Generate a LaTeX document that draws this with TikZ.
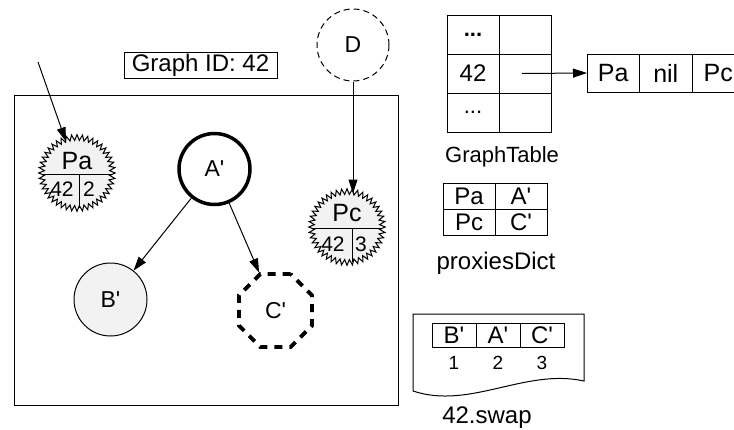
\documentclass[tikz,border=0pt]{standalone}
\usepackage{fontspec}
\setmainfont{Liberation Sans}
\usetikzlibrary{arrows.meta,shapes.geometric,calc}
\newcommand{\q}{\textquotesingle}
\begin{document}
\begin{tikzpicture}[x=1pt,y=-1pt,
  line width=1pt,
  arr/.style={-{Triangle[length=14pt,width=9pt]}, line width=1pt},
  big/.style={font=\fontsize{24}{28}\selectfont, inner sep=0},
  mid/.style={font=\fontsize{25}{29}\selectfont, inner sep=0},
  small/.style={font=\fontsize{21}{24}\selectfont, inner sep=0},
  tiny/.style={font=\fontsize{19}{22}\selectfont, inner sep=0},
  gcell/.style={draw, line width=1pt, inner sep=0, outer sep=0, minimum width=52pt, minimum height=39pt, font=\fontsize{24}{28}\selectfont},
  lcell/.style={draw, line width=1pt, inner sep=0, outer sep=0, minimum width=52.5pt, minimum height=38pt, font=\fontsize{25}{29}\selectfont},
  pcell/.style={draw, line width=1pt, inner sep=0, outer sep=0, minimum width=52pt, minimum height=26pt, font=\fontsize{24}{28}\selectfont},
  scell/.style={draw, line width=1pt, inner sep=0, outer sep=0, minimum width=44pt, minimum height=24pt, font=\fontsize{24}{27}\selectfont},
  burst/.style={draw, line width=1pt, fill=black!5},
  vnode/.style={circle, inner sep=0, font=\fontsize{23}{27}\selectfont}
]
\clip (0,0) rectangle (734,429);

% main frame and caption
\node[draw, line width=1pt, minimum width=384pt, minimum height=310pt, inner sep=0] (frame) at (206,250) {};
\node[draw, line width=1pt, minimum width=153pt, minimum height=26pt, inner sep=0, big] (gid) at (200.5,65) {Graph ID: 42};

% D
\node[vnode, draw, dashed, dash pattern=on 6pt off 4pt, minimum size=72pt] (d) at (353,45) {D};

% vertices
\node[vnode, draw, line width=3.5pt, minimum size=71pt] (a) at (214.5,169) {A\q};
\node[vnode, draw, fill=black!5, minimum size=73pt] (b) at (110.5,299.5) {B\q};
\node[regular polygon, regular polygon sides=8, draw, line width=3.8pt, dash pattern=on 8pt off 7pt, minimum size=79pt, inner sep=0, font=\fontsize{23}{27}\selectfont] (c) at (275.5,310.5) {C\q};

% proxies (starbursts)
\node[circle, minimum size=66pt, inner sep=0] (pa) at (77,173) {};
\draw[burst, shift={(pa.center)}] plot[domain=0:360, samples=89] (\x:{35.5+2.8*cos(44*\x)}) -- cycle;
\draw ($(pa.center)+(-35,1)$) -- ($(pa.center)+(35,1)$);
\draw ($(pa.center)+(2,1)$) -- ($(pa.center)+(2,35)$);
\node[mid] (patxt) at ($(pa.center)+(0,-12)$) {Pa};
\node[small] (pan1) at ($(pa.center)+(-15,16)$) {42};
\node[small] (pan2) at ($(pa.center)+(12,16)$) {2};

\node[circle, minimum size=66pt, inner sep=0] (pc) at (347,227) {};
\draw[burst, shift={(pc.center)}] plot[domain=0:360, samples=89] (\x:{35.5+2.8*cos(44*\x)}) -- cycle;
\draw ($(pc.center)+(-35,1)$) -- ($(pc.center)+(35,1)$);
\draw ($(pc.center)+(5,1)$) -- ($(pc.center)+(5,35)$);
\node[mid] (pctxt) at ($(pc.center)+(0,-14)$) {Pc};
\node[small] (pcn1) at ($(pc.center)+(-14,17)$) {42};
\node[small] (pcn2) at ($(pc.center)+(14,17)$) {3};

% edges
\coordinate (pasrc) at (38,62);
\draw[arr] (pasrc) -- (pa);
\draw[arr] (d.south) -- (d.south |- pc.north);
\draw[arr] (a) -- (b);
\draw[arr] (a) -- (c);

% GraphTable
\node[gcell, font=\bfseries\fontsize{22}{26}\selectfont] (g11) at (473,34.5) {...};
\node[gcell] (g12) at (525,34.5) {};
\node[gcell] (g21) at (473,73.5) {42};
\node[gcell] (g22) at (525,73.5) {};
\node[gcell, font=\fontsize{22}{26}\selectfont] (g31) at (473,112.5) {...};
\node[gcell] (g32) at (525,112.5) {};
\node[anchor=base, inner sep=0, font=\fontsize{22}{26}\selectfont] (gtl) at (502,162) {GraphTable};

% list
\node[lcell] (l1) at (613.25,73) {Pa};
\node[lcell] (l2) at (665.75,73) {nil};
\node[lcell] (l3) at (718.25,73) {Pc};
\draw[arr] ($(g22.center)+(-3,0)$) -- (l1.west);

% proxiesDict
\node[pcell] (p11) at (469,196) {Pa};
\node[pcell] (p12) at (521,196) {A\q};
\node[pcell] (p21) at (469,222) {Pc};
\node[pcell] (p22) at (521,222) {C\q};
\node[big, anchor=base] (pdl) at (496,269) {proxiesDict};

% swap file
\draw[line width=1pt] (413,314) -- (584,314) -- (584,381) .. controls (525,368) and (470,410) .. (413,391) -- cycle;
\node[scell] (s1) at (454,335) {B\q};
\node[scell] (s2) at (498,335) {A\q};
\node[scell] (s3) at (542,335) {C\q};
\node[tiny] (n1) at (454,363) {1};
\node[tiny] (n2) at (498,363) {2};
\node[tiny] (n3) at (542,363) {3};
\node[big, anchor=base] (swl) at (487,423) {42.swap};
\end{tikzpicture}
\end{document}
